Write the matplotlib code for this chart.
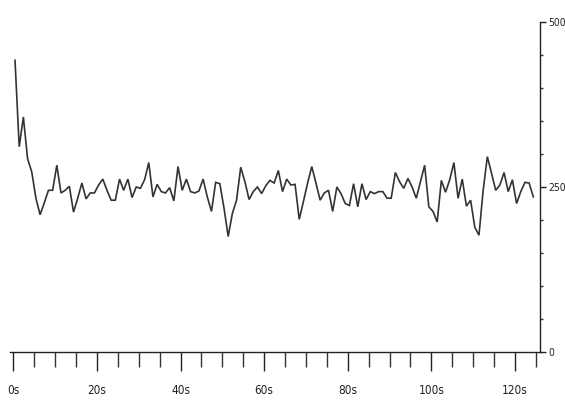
import numpy as np
import matplotlib
matplotlib.use("Agg")
import matplotlib.pyplot as plt
from matplotlib.ticker import MultipleLocator, FuncFormatter

values = [442, 311, 356, 293, 273, 233, 208, 226, 245, 245,
          283, 241, 245, 251, 212, 233, 256, 232, 241, 241,
          253, 262, 245, 230, 230, 262, 245, 262, 234, 250,
          248, 261, 287, 235, 254, 243, 241, 249, 229, 281,
          245, 262, 243, 241, 244, 262, 235, 213, 257, 255,
          218, 175, 210, 230, 280, 258, 231, 243, 250, 240,
          252, 260, 256, 275, 243, 262, 253, 254, 201, 228,
          256, 281, 256, 230, 241, 245, 213, 250, 240, 225,
          222, 255, 220, 255, 231, 243, 240, 243, 243, 233,
          233, 272, 258, 248, 263, 250, 233, 258, 283, 220,
          213, 197, 260, 242, 261, 287, 233, 262, 221, 230,
          189, 177, 245, 296, 271, 245, 253, 272, 243, 261,
          225, 243, 257, 256, 235]
start_time = 0.4  # seconds of the first sample
times = start_time + np.arange(len(values))

x_major = [0, 20, 40, 60, 80, 100, 120]
y_major = [0, 250, 500]

plt.rcParams['font.family'] = ['DejaVu Sans']
fig = plt.figure(figsize=(5.65, 4.01), dpi=100)
W, H = 565, 401
ax = fig.add_axes([10 / W, (H - 352) / H, (540 - 10) / W, (352 - 22) / H])

ax.plot(times, values, color='#333333', lw=1.2, solid_joinstyle='miter')

ax.set_xlim(-0.8, 126)
ax.set_ylim(0, 500)

for s in ['left', 'top']:
    ax.spines[s].set_visible(False)
for s in ['bottom', 'right']:
    ax.spines[s].set_color('#222222')
    ax.spines[s].set_linewidth(1.0)

ax.xaxis.set_major_locator(plt.FixedLocator(x_major))
ax.xaxis.set_minor_locator(MultipleLocator(5))
ax.xaxis.set_major_formatter(FuncFormatter(lambda v, p: f"{int(v)}s"))
ax.yaxis.set_major_locator(plt.FixedLocator(y_major))
ax.yaxis.set_minor_locator(MultipleLocator(50))
ax.yaxis.tick_right()
ax.yaxis.set_label_position('right')

ax.tick_params(axis='x', which='major', length=14, width=1.0, color='#222222',
               direction='out', pad=9, labelsize=8.5, labelcolor='#222222')
ax.tick_params(axis='x', which='minor', length=10.5, width=1.0, color='#333333',
               direction='out')
ax.tick_params(axis='y', which='major', length=4, width=1.0, color='#222222',
               direction='out', pad=2, labelsize=7.5, labelcolor='#222222')
ax.tick_params(axis='y', which='minor', length=2, width=1.0, color='#333333',
               direction='out')
for lab in ax.get_xticklabels() + ax.get_yticklabels():
    lab.set_fontstretch('condensed')

fig.savefig('out.png', dpi=100)
